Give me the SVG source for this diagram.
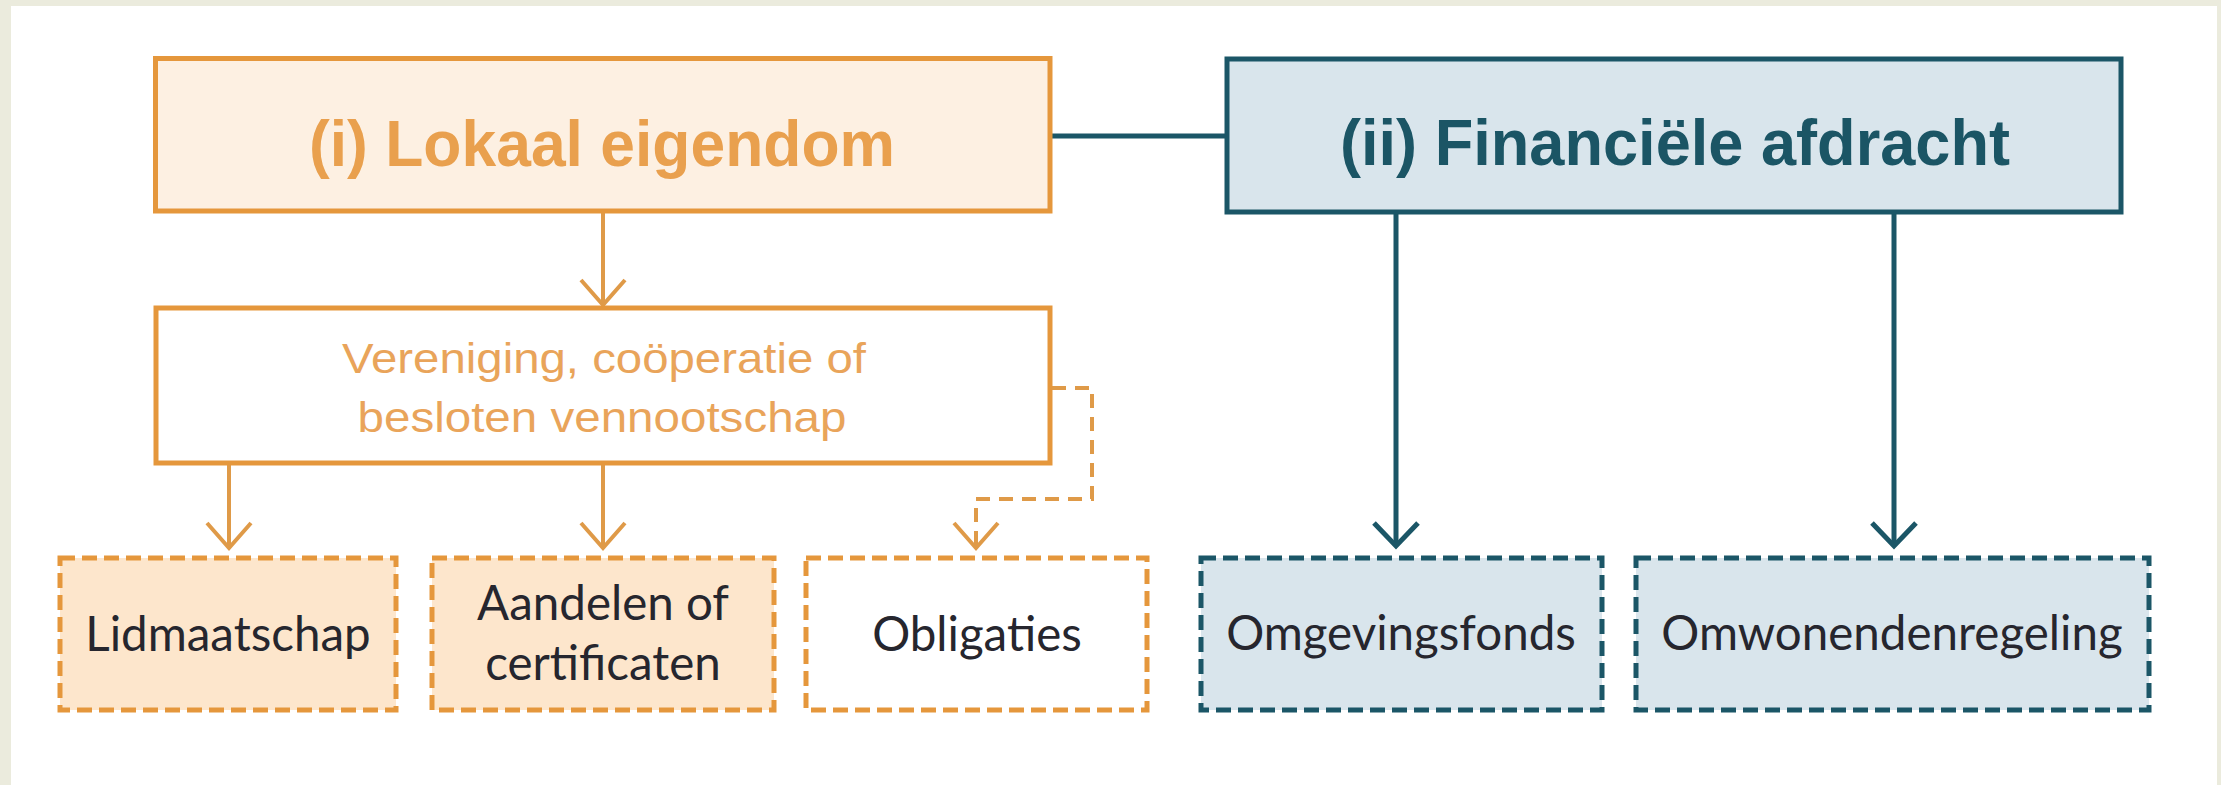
<svg xmlns="http://www.w3.org/2000/svg" width="2221" height="785" viewBox="0 0 2221 785">
<style>
  .or { stroke: #e5973c; stroke-width: 5; }
  .te { stroke: #1b5667; stroke-width: 5; }
  .dash { stroke-dasharray: 15 7; }
  .head { font-family: "Liberation Sans Narrow", "Liberation Sans", Arial, sans-serif; font-weight: bold; font-size: 64px; text-anchor: middle; }
  .sub { font-family: "Liberation Sans Narrow", "Liberation Sans", Arial, sans-serif; font-size: 43px; fill: #e9a45a; text-anchor: middle; }
  .lbl { font-family: Lato, "Open Sans", sans-serif; font-size: 47.5px; fill: #26262e; text-anchor: middle; }
  .conn-o { fill: none; stroke: #df9a48; stroke-width: 4; }
  .conn-t { fill: none; stroke: #1b5667; stroke-width: 5; }
</style>
<defs>
  <marker id="ah-o" markerUnits="userSpaceOnUse" markerWidth="60" markerHeight="60" viewBox="-30 -30 60 60" refX="0" refY="0" orient="auto" overflow="visible">
    <path d="M-25,-22 L0,0 L-25,22" fill="none" stroke="#df9a48" stroke-width="4"/>
  </marker>
  <marker id="ah-t" markerUnits="userSpaceOnUse" markerWidth="60" markerHeight="60" viewBox="-30 -30 60 60" refX="0" refY="0" orient="auto" overflow="visible">
    <path d="M-23,-22 L0,0 L-23,22" fill="none" stroke="#1b5667" stroke-width="5"/>
  </marker>
</defs>
<rect x="0" y="0" width="2221" height="785" fill="#ebebdd"/>
<rect x="11" y="6" width="2206" height="779" fill="#ffffff"/>

<g id="connectors">
  <line x1="1052" y1="136" x2="1225" y2="136" class="conn-t"/>
  <line x1="603" y1="213" x2="603" y2="305" class="conn-o" marker-end="url(#ah-o)"/>
  <line x1="229" y1="465" x2="229" y2="548" class="conn-o" marker-end="url(#ah-o)"/>
  <line x1="603" y1="465" x2="603" y2="548" class="conn-o" marker-end="url(#ah-o)"/>
  <path d="M1052,388 H1092 V499 H976 V548" class="conn-o" stroke-dasharray="14 9" marker-end="url(#ah-o)"/>
  <line x1="1396" y1="214" x2="1396" y2="546" class="conn-t" marker-end="url(#ah-t)"/>
  <line x1="1894" y1="214" x2="1894" y2="546" class="conn-t" marker-end="url(#ah-t)"/>
</g>

<g id="lokaal-eigendom">
  <rect x="155.5" y="58.5" width="894.5" height="152.5" fill="#fdf0e2" class="or"/>
  <text x="602" y="166" class="head" fill="#e9a04e" textLength="586" lengthAdjust="spacingAndGlyphs">(i) Lokaal eigendom</text>
</g>

<g id="financiele-afdracht">
  <rect x="1227" y="59" width="894" height="153" fill="#d9e5ec" class="te"/>
  <text x="1675" y="165" class="head" fill="#1b5565" textLength="670" lengthAdjust="spacingAndGlyphs">(ii) Financiële afdracht</text>
</g>

<g id="rechtsvorm">
  <rect x="156" y="308" width="894" height="155" fill="#ffffff" class="or"/>
  <text x="604" y="373" class="sub" textLength="524" lengthAdjust="spacingAndGlyphs">Vereniging, coöperatie of</text>
  <text x="602" y="432" class="sub" textLength="489" lengthAdjust="spacingAndGlyphs">besloten vennootschap</text>
</g>

<g id="lidmaatschap">
  <rect x="60" y="558" width="336" height="152" fill="#fde6cc" class="or dash"/>
  <text x="228" y="651" class="lbl">Lidmaatschap</text>
</g>

<g id="aandelen">
  <rect x="432" y="558" width="342" height="152" fill="#fde6cc" class="or dash"/>
  <text x="603" y="620" class="lbl">Aandelen of</text>
  <text x="603" y="680" class="lbl">certificaten</text>
</g>

<g id="obligaties">
  <rect x="806" y="558" width="341" height="152" fill="#ffffff" class="or dash"/>
  <text x="977" y="651" class="lbl">Obligaties</text>
</g>

<g id="omgevingsfonds">
  <rect x="1201" y="558" width="401" height="152" fill="#d9e5ec" class="te dash"/>
  <text x="1401" y="650" class="lbl">Omgevingsfonds</text>
</g>

<g id="omwonendenregeling">
  <rect x="1636" y="558" width="513" height="152" fill="#d9e5ec" class="te dash"/>
  <text x="1892" y="650" class="lbl">Omwonendenregeling</text>
</g>
</svg>
